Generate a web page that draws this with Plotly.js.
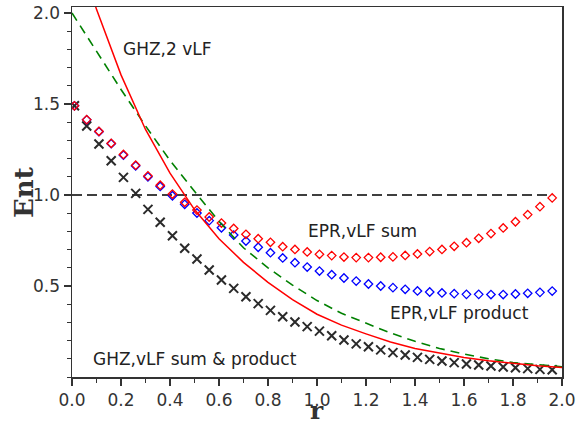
<!DOCTYPE html>
<html>
<head>
<meta charset="utf-8">
<script src="https://cdn.plot.ly/plotly-3.0.1.min.js"></script>
<style>html,body{margin:0;padding:0;background:#fff;}#chart{width:583px;height:427px;}</style>
</head>
<body>
<div id="chart"></div>
<script>
// marker grid (r values)
var rPts = [0.01,0.06,0.11,0.16,0.21,0.26,0.31,0.36,0.41,0.46,0.51,0.56,0.61,0.66,0.71,0.76,0.81,0.86,0.91,0.96,
            1.01,1.06,1.11,1.16,1.21,1.26,1.31,1.36,1.41,1.46,1.51,1.56,1.61,1.66,1.71,1.76,1.81,1.86,1.91,1.96];
// EPR, vLF sum (red diamonds)
var eprSum = [1.49,1.414,1.35,1.284,1.223,1.164,1.105,1.054,1.005,0.960,0.917,0.879,0.846,0.816,0.784,0.760,0.740,0.716,0.701,0.687,
              0.674,0.667,0.659,0.656,0.656,0.658,0.660,0.668,0.676,0.689,0.701,0.718,0.738,0.762,0.788,0.819,0.853,0.892,0.936,0.984];
// EPR, vLF product (blue diamonds)
var eprProd = [1.49,1.413,1.348,1.282,1.219,1.16,1.10,1.047,0.996,0.949,0.901,0.859,0.820,0.780,0.747,0.713,0.683,0.654,0.628,0.604,
               0.582,0.562,0.544,0.527,0.511,0.500,0.491,0.482,0.473,0.467,0.462,0.458,0.454,0.454,0.453,0.453,0.456,0.460,0.465,0.472];
// GHZ, vLF sum & product (black crosses)
var ghzSP = [1.49,1.379,1.280,1.188,1.097,1.009,0.921,0.850,0.776,0.707,0.648,0.588,0.533,0.487,0.441,0.403,0.366,0.331,0.302,0.277,
             0.252,0.227,0.203,0.182,0.166,0.149,0.134,0.121,0.108,0.097,0.088,0.079,0.071,0.066,0.060,0.055,0.051,0.046,0.042,0.040];
// GHZ, 2 vLF (red solid)
var rRed = [0.05,0.1,0.2,0.3,0.4,0.5,0.6,0.7,0.8,0.9,1.0,1.1,1.2,1.3,1.4,1.5,1.6,1.7,1.8,1.9,2.0];
var ghz2Red = [2.24,2.02,1.66,1.36,1.12,0.92,0.76,0.63,0.52,0.425,0.345,0.285,0.237,0.192,0.157,0.130,0.107,0.089,0.074,0.062,0.052];
// green dashed curve
var rGreen = [0.0,0.1,0.2,0.3,0.4,0.5,0.6,0.7,0.8,0.9,1.0,1.1,1.2,1.3,1.4,1.5,1.6,1.7,1.8,1.9,2.0];
var ghz2Green = [2.00,1.79,1.58,1.38,1.19,1.02,0.855,0.71,0.60,0.505,0.42,0.35,0.295,0.242,0.196,0.157,0.126,0.100,0.080,0.066,0.056];
// reference level
var refX = [0.0,1.96];
var refY = [1.0,1.0];

var axisCol = '#333333';
var traces = [
  {x: refX, y: refY, mode:'lines', line:{color:'#000000', width:1.4, dash:'10px,5px'}, hoverinfo:'skip'},
  {x: rPts, y: ghzSP, mode:'markers', marker:{symbol:'x-thin-open', size:9, color:'#2a2a2a', line:{color:'#2a2a2a', width:2}}},
  {x: rPts, y: eprProd, mode:'markers', marker:{symbol:'diamond-open', size:6.5, color:'#0000ff', line:{color:'#0000ff', width:1.3}}},
  {x: rPts, y: eprSum, mode:'markers', marker:{symbol:'diamond-open', size:6.5, color:'#ff0000', line:{color:'#ff0000', width:1.3}}},
  {x: rGreen, y: ghz2Green, mode:'lines', line:{color:'#008000', width:1.6, dash:'9px,6px'}},
  {x: rRed, y: ghz2Red, mode:'lines', line:{color:'#ff0000', width:1.5}}
];

var annFont = {family:'DejaVu Sans', size:17, color:'#222222'};
function ann(t, x, y){ return {text:t, x:x, y:y, xref:'x', yref:'y', xanchor:'left', yanchor:'middle', showarrow:false, font:annFont}; }
var titleFont = {family:'DejaVu Serif', size:26, color:axisCol, weight:'bold'};

var layout = {
  width:583, height:427,
  margin:{l:72, r:21, t:7, b:50},
  paper_bgcolor:'#ffffff', plot_bgcolor:'#ffffff',
  showlegend:false,
  font:{family:'DejaVu Sans', size:17, color:axisCol},
  xaxis:{
    range:[0,2], tick0:0, dtick:0.2, tickformat:'.1f',
    ticks:'outside', ticklen:7, tickwidth:1.2, tickcolor:axisCol,
    minor:{dtick:0.1, ticks:'outside', ticklen:4, tickcolor:axisCol, tickwidth:1},
    showline:true, linecolor:axisCol, linewidth:1.5, mirror:true,
    showgrid:false, zeroline:false,
    tickfont:{family:'DejaVu Sans', size:17, color:axisCol}
  },
  yaxis:{
    range:[0,2.033], tickmode:'array', tickvals:[0.5,1.0,1.5,2.0], ticktext:['0.5','1.0','1.5','2.0'],
    ticks:'outside', ticklen:7, tickwidth:1.2, tickcolor:axisCol,
    minor:{tick0:0, dtick:0.1, ticks:'outside', ticklen:4, tickcolor:axisCol, tickwidth:1},
    showline:true, linecolor:axisCol, linewidth:1.5, mirror:true,
    showgrid:false, zeroline:false,
    tickfont:{family:'DejaVu Sans', size:17, color:axisCol}
  },
  annotations:[
    ann('GHZ,2 vLF', 0.199, 1.80),
    ann('EPR,vLF sum', 0.955, 0.80),
    ann('EPR,vLF product', 1.288, 0.353),
    ann('GHZ,vLF sum &amp; product', 0.078, 0.099),
    // axis titles
    {text:'Ent', xref:'paper', yref:'paper', x:-0.098, y:0.5, xanchor:'center', yanchor:'middle', textangle:-90, showarrow:false, font:titleFont},
    {text:'r', xref:'paper', yref:'paper', x:0.501, y:-0.1315, xanchor:'center', yanchor:'bottom', borderpad:0, showarrow:false,
     font:{family:'DejaVu Serif', size:25, color:axisCol, weight:'bold'}}
  ]
};

Plotly.newPlot('chart', traces, layout, {displayModeBar:false, staticPlot:true});
</script>
</body>
</html>
